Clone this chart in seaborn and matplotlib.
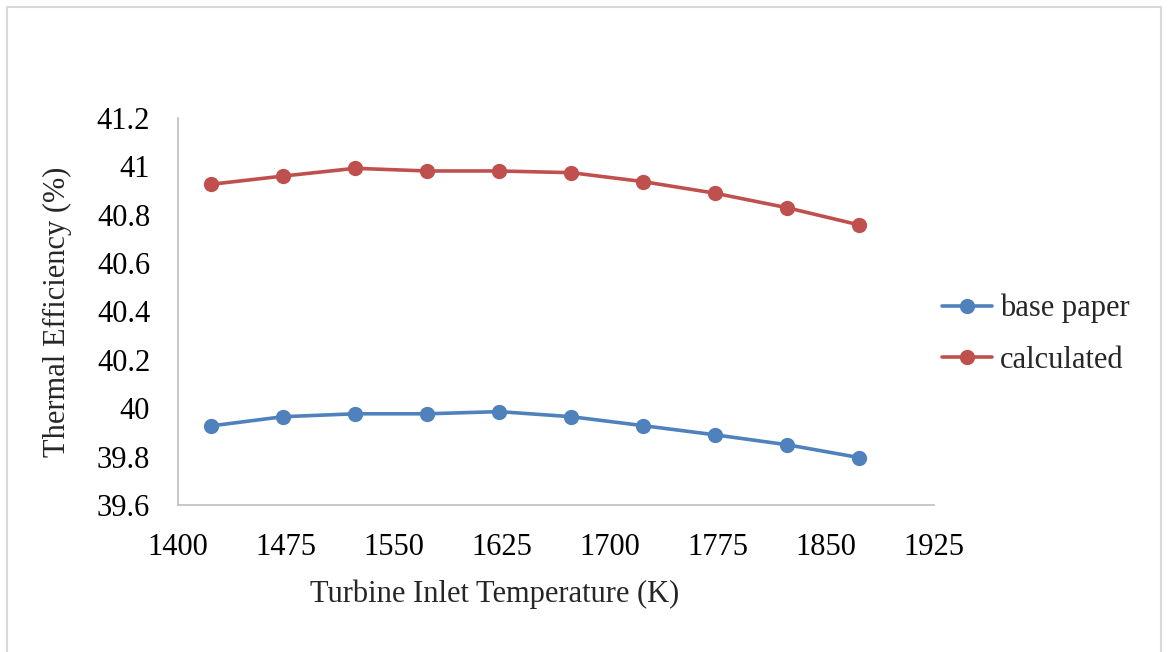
import matplotlib
matplotlib.use("Agg")
import matplotlib.pyplot as plt
import seaborn as sns
import pandas as pd
from matplotlib.patches import Rectangle

temperature = [1423, 1473, 1523, 1573, 1623, 1673, 1723, 1773, 1823, 1873]
base_paper = [39.927, 39.965, 39.977, 39.977, 39.986, 39.965, 39.928, 39.890, 39.849, 39.796]
calculated = [40.926, 40.960, 40.992, 40.981, 40.981, 40.974, 40.937, 40.889, 40.829, 40.758]
series_names = ["base paper", "calculated"]
colors = ["#4F81BD", "#C0504D"]
x_ticks = [1400, 1475, 1550, 1625, 1700, 1775, 1850, 1925]
y_ticks = [39.6, 39.8, 40.0, 40.2, 40.4, 40.6, 40.8, 41.0, 41.2]
y_tick_labels = ["39.6", "39.8", "40", "40.2", "40.4", "40.6", "40.8", "41", "41.2"]

df = pd.DataFrame({
    "T": temperature * 2,
    "eff": base_paper + calculated,
    "series": [series_names[0]] * len(temperature) + [series_names[1]] * len(temperature),
})

sns.set_theme(style="white")
plt.rcParams["font.family"] = ["Liberation Serif", "DejaVu Serif"]

FS = 22

fig = plt.figure(figsize=(11.68, 6.52), dpi=100)
ax = fig.add_axes([0.1524, 0.2255, 0.6473, 0.5935])

sns.lineplot(data=df, x="T", y="eff", hue="series", palette=colors,
             marker="o", markersize=11, markeredgewidth=0, linewidth=2.6,
             ax=ax, legend=True)

ax.set_xlim(1400, 1925)
ax.set_ylim(39.6, 41.2)
ax.set_xticks(x_ticks)
ax.set_xticklabels([str(t) for t in x_ticks])
ax.set_yticks(y_ticks)
ax.set_yticklabels(y_tick_labels)
ax.tick_params(axis="both", length=0, labelsize=FS, colors="black")
ax.tick_params(axis="y", pad=20)
ax.tick_params(axis="x", pad=20)

for side in ["top", "right"]:
    ax.spines[side].set_visible(False)
for side in ["left", "bottom"]:
    ax.spines[side].set_color("#BFBFBF")
    ax.spines[side].set_linewidth(1.2)

ax.set_xlabel("Turbine Inlet Temperature (K)", fontsize=FS)
ax.set_ylabel("Thermal Efficiency (%)", fontsize=FS)
ax.xaxis.set_label_coords(0.419, -0.193)
ax.yaxis.set_label_coords(-0.14, 0.5)

leg = ax.legend(loc="center left", bbox_to_anchor=(942 / 1168, 0.487), bbox_transform=fig.transFigure,
                frameon=False, fontsize=FS, handlelength=1.64, handletextpad=0.25,
                labelspacing=0.75, borderaxespad=0, borderpad=0)

fig.patches.append(Rectangle((7 / 1168, -0.01), 1154 / 1168, 1 - 7 / 652 + 0.01,
                             transform=fig.transFigure, fill=False,
                             edgecolor="#D9D9D9", linewidth=1.5))

fig.savefig("out.png", dpi=100, facecolor="white")
